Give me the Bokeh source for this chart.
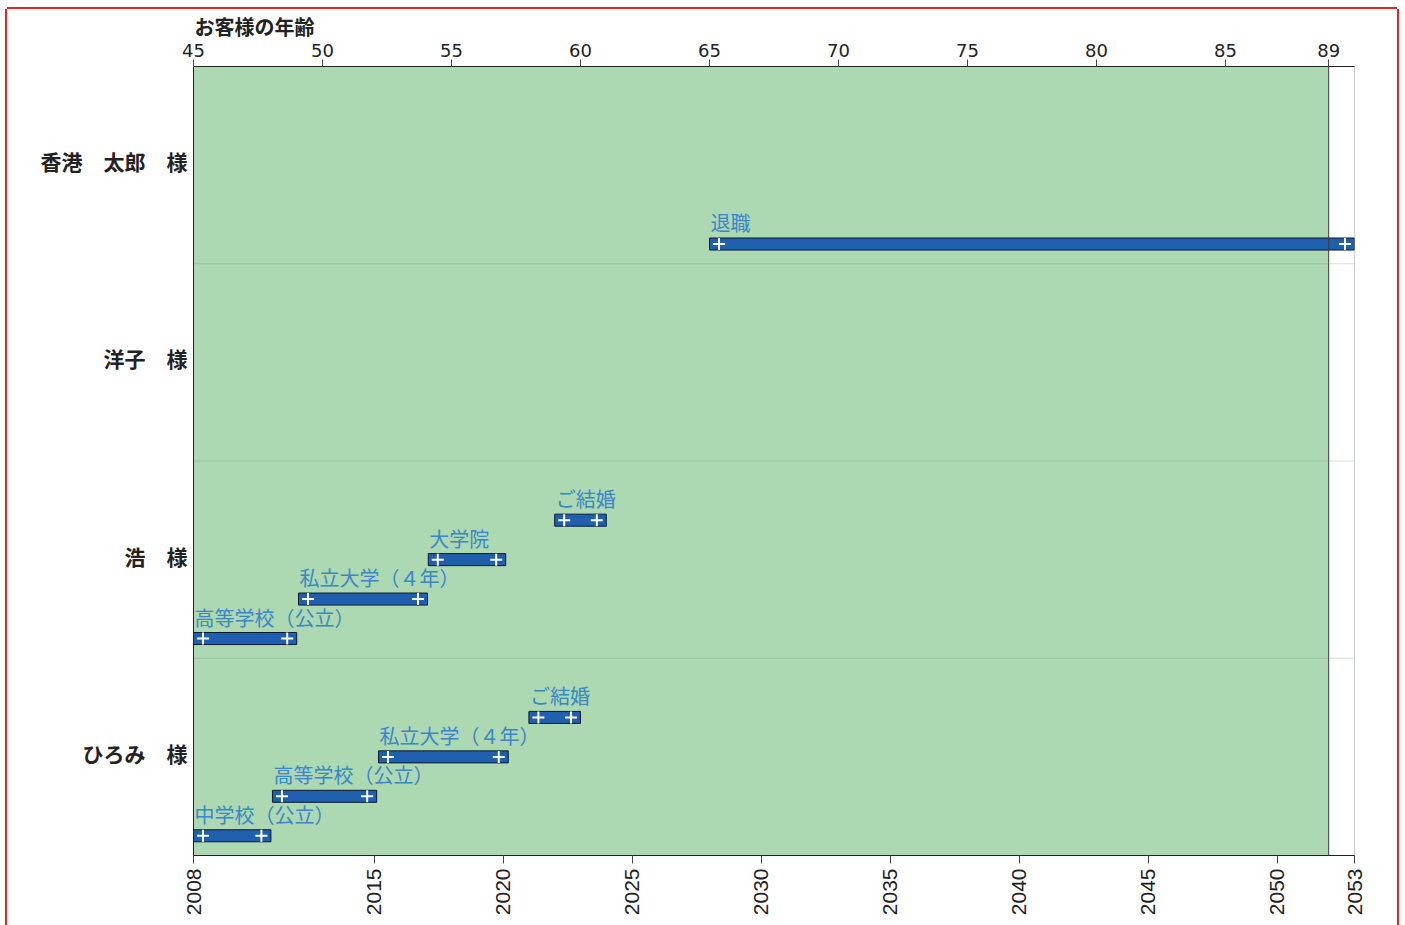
import math
from bokeh.plotting import figure
from bokeh.models import Range1d, LinearAxis, FixedTicker, Span, ColumnDataSource
from bokeh.core.properties import value
from bokeh.embed import file_html
from bokeh.resources import INLINE

# ---------------- data ----------------
people = ["ひろみ　様", "浩　様", "洋子　様", "香港　太郎　様"]  # bottom -> top
title_text = "お客様の年齢"
year_first, year_last = 2008, 2053
age_first = 45
age_last_year = 2052          # year in which the customer turns 89
age_ticks = [45, 50, 55, 60, 65, 70, 75, 80, 85, 89]
year_ticks = [2008, 2015, 2020, 2025, 2030, 2035, 2040, 2045, 2050, 2053]

event_person = ["香港　太郎　様",
                "浩　様", "浩　様", "浩　様", "浩　様",
                "ひろみ　様", "ひろみ　様", "ひろみ　様", "ひろみ　様"]
event_label = ["退職",
               "高等学校（公立）", "私立大学（４年）", "大学院", "ご結婚",
               "中学校（公立）", "高等学校（公立）", "私立大学（４年）", "ご結婚"]
event_start = [2028.0,
               2008.0, 2012.07, 2017.1, 2022.0,
               2008.0, 2011.06, 2015.17, 2021.0]
event_end = [2053.0,
             2012.0, 2017.07, 2020.1, 2024.0,
             2011.0, 2015.1, 2020.2, 2023.0]
event_lane = [0,
              0, 1, 2, 3,
              0, 1, 2, 3]

# ---------------- layout constants ----------------
W, H = 1390, 916
B_LEFT, B_RIGHT, B_TOP, B_BOTTOM = 186, 43, 57, 70
frame_w = W - B_LEFT - B_RIGHT
frame_h = H - B_TOP - B_BOTTOM
px_per_year = frame_w / (year_last - year_first)
px_per_row = frame_h / len(people)
cross_pad = 9.5 / px_per_year
name_lift = 4 / px_per_row
lane_base, lane_step, bar_h = 0.1, 0.2, 0.061

GREEN = "#acd8b2"
BAR = "#1f5fae"
LABEL_BLUE = "#3a86c8"
DARK = "#222222"
RED = "#e8242b"
JP = "Noto Sans CJK JP"

row_of = {name: i for i, name in enumerate(people)}
ys = [row_of[p] + lane_base + lane_step * l for p, l in zip(event_person, event_lane)]

src = ColumnDataSource(dict(
    start=event_start, end=event_end, y=ys, label=event_label,
    ytop=[y + bar_h / 2 for y in ys],
    c1=[s + cross_pad for s in event_start],
    c2=[e - cross_pad for e in event_end],
))

p = figure(width=W, height=H, output_backend="svg", toolbar_location=None,
           x_range=Range1d(year_first, year_last), y_range=Range1d(0, len(people)),
           min_border_left=B_LEFT, min_border_right=B_RIGHT,
           min_border_top=B_TOP, min_border_bottom=B_BOTTOM,
           title=title_text)
p.styles = {"margin-left": "7px", "margin-top": "9px",
            "box-shadow": f"-2px 0 0 0 {RED}, 2px 0 0 0 {RED}, 0 -2px 0 0 {RED}"}

p.title.text_font = JP
p.title.text_font_size = "20px"
p.title.text_font_style = "bold"
p.title.text_color = DARK
p.title.align = "left"
p.title.offset = 1
p.title.standoff = 0

p.background_fill_color = "white"
p.border_fill_color = "white"
p.outline_line_color = "#cfcfcf"
p.xgrid.grid_line_color = None
p.ygrid.grid_line_color = None

# green span of the customer's lifetime (to age 89)
p.quad(left=[year_first], right=[age_last_year], bottom=[0], top=[len(people)],
       fill_color=GREEN, line_color=None)
p.add_layout(Span(location=age_last_year, dimension="height",
                  line_color="#3a3a3a", line_width=1))
for b in range(1, len(people)):
    p.add_layout(Span(location=b, dimension="width",
                      line_color="#5a8a60", line_alpha=0.25, line_width=1))

# bars
p.hbar(y="y", left="start", right="end", height=bar_h, source=src,
       fill_color=BAR, line_color="#0d1a30", line_width=1)
p.scatter(x="c1", y="y", source=src, marker="cross", size=12,
          line_color="white", line_width=2)
p.scatter(x="c2", y="y", source=src, marker="cross", size=12,
          line_color="white", line_width=2)
p.text(x="start", y="ytop", text="label", source=src,
       text_font=value(JP), text_font_size="20px", text_color=LABEL_BLUE,
       text_align="left", text_baseline="bottom", x_offset=1, y_offset=-1)

# bottom axis (years)
xa = p.xaxis[0]
xa.ticker = FixedTicker(ticks=year_ticks)
xa.major_label_orientation = math.pi / 2
xa.major_label_text_font = "Liberation Sans"
xa.major_label_text_font_size = "21px"
xa.major_label_text_color = DARK
xa.major_tick_out = 8
xa.major_tick_in = 0
xa.minor_tick_line_color = None
xa.major_label_standoff = 5
xa.axis_line_color = DARK
xa.major_tick_line_color = "#444444"

# left axis (names)
ya = p.yaxis[0]
name_ticks = [i + 0.5 + name_lift for i in range(len(people))]
ya.ticker = FixedTicker(ticks=name_ticks)
ya.major_label_overrides = {t: n for t, n in zip(name_ticks, people)}
ya.major_label_text_font = JP
ya.major_label_text_font_style = "bold"
ya.major_label_text_font_size = "21px"
ya.major_label_text_color = DARK
ya.major_tick_line_color = None
ya.minor_tick_line_color = None
ya.major_label_standoff = 0
ya.axis_line_color = DARK

# top axis (age)
p.extra_x_ranges = {"age": Range1d(age_first, age_first + (year_last - year_first))}
ta = LinearAxis(x_range_name="age", ticker=FixedTicker(ticks=age_ticks))
ta.major_label_text_font = "DejaVu Sans"
ta.major_label_text_font_size = "18px"
ta.major_label_text_color = DARK
ta.major_tick_out = 7
ta.major_tick_in = 0
ta.minor_tick_line_color = None
ta.major_label_standoff = 3
ta.axis_line_color = DARK
ta.major_tick_line_color = "#444444"
p.add_layout(ta, "above")

open("out.html", "w").write(file_html(p, INLINE))
